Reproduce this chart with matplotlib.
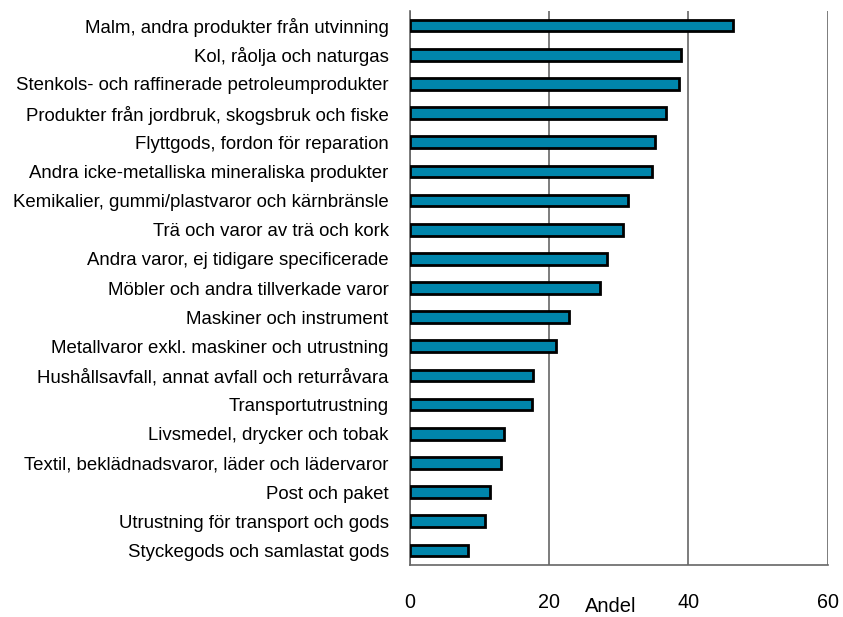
import matplotlib
matplotlib.use("Agg")
import matplotlib.pyplot as plt

categories = [
    "Malm, andra produkter från utvinning",
    "Kol, råolja och naturgas",
    "Stenkols- och raffinerade petroleumprodukter",
    "Produkter från jordbruk, skogsbruk och fiske",
    "Flyttgods, fordon för reparation",
    "Andra icke-metalliska mineraliska produkter",
    "Kemikalier, gummi/plastvaror och kärnbränsle",
    "Trä och varor av trä och kork",
    "Andra varor, ej tidigare specificerade",
    "Möbler och andra tillverkade varor",
    "Maskiner och instrument",
    "Metallvaror exkl. maskiner och utrustning",
    "Hushållsavfall, annat avfall och returråvara",
    "Transportutrustning",
    "Livsmedel, drycker och tobak",
    "Textil, beklädnadsvaror, läder och lädervaror",
    "Post och paket",
    "Utrustning för transport och gods",
    "Styckegods och samlastat gods",
]
values = [46.4, 39.0, 38.7, 36.8, 35.3, 34.8, 31.4, 30.6, 28.4, 27.4,
          22.9, 21.1, 17.7, 17.6, 13.6, 13.2, 11.6, 10.9, 8.4]
xticks = [0, 20, 40, 60]

plt.rcParams['font.family'] = ['Liberation Sans', 'DejaVu Sans']

fig = plt.figure(figsize=(8.43, 6.17), dpi=100)
ax = fig.add_axes([409.5/843, 1-565/617, (827.5-409.5)/843, (565-11)/617])

ypos = list(range(len(categories)))[::-1]
ax.barh(ypos, values, height=0.4, color="#0085AB", edgecolor="black", linewidth=2.0, zorder=3)
ax.set_yticks(ypos)
ax.set_yticklabels(categories, fontsize=13.4)
ax.set_ylim(-0.5, len(categories) - 0.5)
ax.set_xlim(0, 60)
ax.set_xticks(xticks)
ax.set_xticklabels([str(t) for t in xticks], fontsize=14.2)
ax.tick_params(axis='both', length=0)
ax.tick_params(axis='y', pad=15)
ax.tick_params(axis='x', pad=20)
ax.xaxis.grid(True, color="#666666", linewidth=1.2, zorder=0)
for s in ['top', 'right']:
    ax.spines[s].set_visible(False)
ax.spines['left'].set_color("#666666")
ax.spines['bottom'].set_color("#666666")
ax.spines['left'].set_linewidth(1.2)
ax.spines['bottom'].set_linewidth(1.2)
fig.text(611/843, 1-612/617, "Andel", fontsize=14.5, ha='center', va='baseline')

fig.savefig("out.png", dpi=100)
